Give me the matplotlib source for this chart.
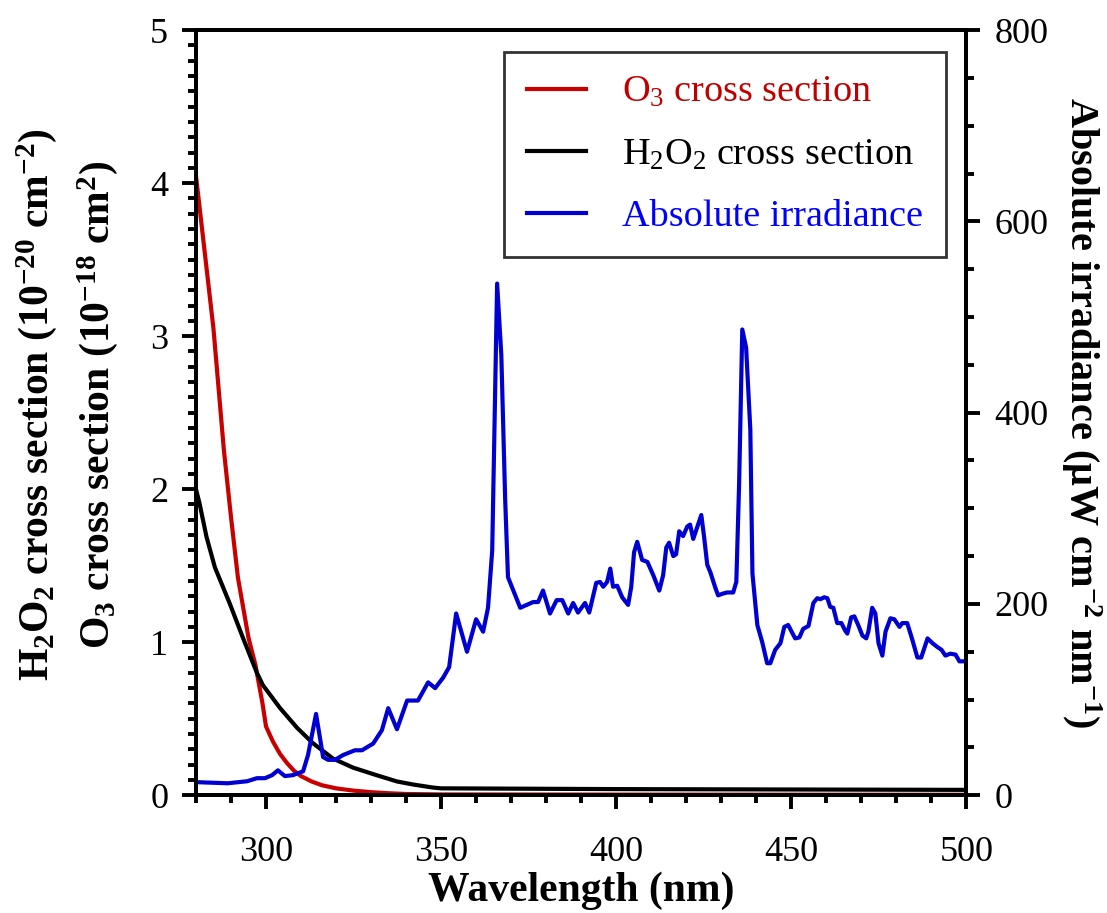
import numpy as np
import matplotlib
matplotlib.use('agg')
import matplotlib.pyplot as plt  # noqa
from matplotlib.ticker import MultipleLocator

plt.rcParams['font.family'] = ['Liberation Serif', 'DejaVu Serif']
plt.rcParams['mathtext.fontset'] = 'custom'
plt.rcParams['mathtext.rm'] = 'Liberation Serif'
plt.rcParams['mathtext.it'] = 'Liberation Serif:italic'
plt.rcParams['mathtext.bf'] = 'Liberation Serif:bold'

# O3 cross section (1e-18 cm2)
o3_wl = [280, 282, 285, 288, 290, 292, 295, 297, 299, 300, 302, 304, 306,
         308, 310, 313, 316, 320, 325, 330, 335, 340, 350, 400, 500]
o3_xs = [4.05, 3.65, 3.05, 2.25, 1.82, 1.42, 1.03, 0.85, 0.60, 0.45, 0.35,
         0.27, 0.21, 0.16, 0.125, 0.09, 0.065, 0.045, 0.03, 0.02, 0.013,
         0.008, 0.005, 0.004, 0.003]

# H2O2 cross section (1e-20 cm-2)
h2o2_wl = [280, 281, 283, 285.4, 289.7, 293.4, 297.4, 299.1, 304, 308.9,
           313.4, 319.1, 324.9, 331.7, 337.4, 342, 347.7, 350, 400, 500]
h2o2_xs = [2.0, 1.91, 1.69, 1.49, 1.25, 1.03, 0.80, 0.72, 0.57, 0.44,
           0.34, 0.24, 0.18, 0.13, 0.09, 0.07, 0.05, 0.045, 0.04, 0.035]

# Absolute irradiance (uW cm-2 nm-1)
irr_wl = [280, 280.6, 289.1, 294.6, 297.4, 299.7, 301.7, 303.4, 305.4, 307.7,
          310.6, 312, 314.3, 316.3, 317.7, 319.7, 322, 325.4, 327.4, 330.6,
          333.1, 334.9, 337.4, 340.3, 343.4, 346.3, 348.3, 350.6, 352.3,
          354.3, 357.4, 360, 362, 363.4, 364.6, 366, 367.2, 368.3, 369.1,
          372.6, 376.3, 377.7, 379.1, 381.1, 383, 384.6, 386.3, 387.7, 389.1,
          391.1, 392.3, 394.3, 395.4, 396.3, 397.4, 398.3, 399.1, 400.3,
          401.7, 403.4, 404.3, 405.1, 406, 407.4, 408.9, 410.6, 412.3, 413.4,
          414.3, 415.1, 416.3, 417.1, 418, 419.1, 420.3, 421.1, 422, 424.3,
          425.1, 426, 426.9, 428.3, 429.1, 430.6, 431.7, 433.4, 434.3, 435.1,
          436, 437.1, 438.3, 438.9, 440.3, 441.7, 443.1, 444, 445.4, 446.9,
          448, 449.1, 451.1, 452.3, 453.4, 454.9, 456.3, 457.4, 458.3, 459.4,
          460.3, 461.1, 462, 463.1, 464.3, 465.4, 466, 467.1, 468, 469.1,
          470.3, 471.4, 472, 473.1, 474, 474.9, 476, 476.9, 478.3, 479.4,
          480.9, 481.7, 483.1, 484.6, 486, 487.1, 488.9, 490.3, 491.7, 492.9,
          494, 495.4, 496.9, 498, 499.4, 500]
irr_val = [13, 13.6, 12.5, 14.6, 17.8, 17.8, 20.9, 26, 20, 21,
           25, 42, 85, 40, 37, 37, 42, 47, 47, 54,
           68, 91, 69, 99, 99, 118, 112, 123, 134,
           190, 150, 184, 171, 196, 256, 535, 460, 309, 228,
           196, 202, 202, 214, 190, 204, 204, 190, 201, 191,
           201, 191, 222, 223, 218, 223, 237, 218, 219,
           207, 199, 218, 254, 265, 246, 244, 230, 214, 230,
           259, 264, 250, 252, 276, 271, 281, 283, 268, 293,
           270, 241, 233, 217, 209, 211, 212, 212, 223, 326,
           487, 468, 382, 232, 178, 160, 138, 138, 152, 159,
           176, 178, 164, 165, 174, 177, 201, 206, 205, 207,
           206, 197, 196, 180, 180, 172, 169, 186, 187, 178,
           167, 164, 171, 196, 190, 159, 146, 171, 185, 184,
           176, 180, 180, 162, 144, 144, 164, 159, 155, 152,
           146, 148, 147, 140, 140, 140]

red = '#c80000'
blue = '#0000d2'

fig = plt.figure(figsize=(11.07, 9.13), dpi=100)
ax = fig.add_axes([0.177, 0.129, 0.696, 0.838])
ax2 = ax.twinx()

l1, = ax.plot(o3_wl, o3_xs, color=red, lw=3.0, label='O$_3$ cross section')
l2, = ax.plot(h2o2_wl, h2o2_xs, color='black', lw=3.0,
              label='H$_2$O$_2$ cross section')
l3, = ax2.plot(irr_wl, irr_val, color=blue, lw=3.0,
               label='Absolute irradiance')

ax.set_xlim(280, 500)
ax.set_ylim(0, 5)
ax2.set_ylim(0, 800)

ax.xaxis.set_major_locator(MultipleLocator(50))
ax.xaxis.set_minor_locator(MultipleLocator(10))
ax.yaxis.set_major_locator(MultipleLocator(1))
ax.yaxis.set_minor_locator(MultipleLocator(0.1))
ax2.yaxis.set_major_locator(MultipleLocator(200))
ax2.yaxis.set_minor_locator(MultipleLocator(50))

for a in (ax, ax2):
    for s in a.spines.values():
        s.set_linewidth(2.8)
    a.tick_params(which='major', length=10, width=2.8, labelsize=26, pad=10)
    a.tick_params(which='minor', length=6, width=2.8)
ax.tick_params(axis='x', which='both', top=False)
ax.tick_params(axis='x', which='major', pad=19)
ax.tick_params(axis='y', which='both', right=False)

ax.set_xlabel('Wavelength (nm)', fontsize=30, fontweight='bold', labelpad=2)
ax.text(-0.207, 0.51,
        r'H$_\mathbf{2}$O$_\mathbf{2}$ cross section (10$^\mathbf{-20}$ cm$^\mathbf{-2}$)',
        transform=ax.transAxes, rotation=90, ha='center', va='center',
        fontsize=30, fontweight='bold')
ax.text(-0.128, 0.51,
        r'O$_\mathbf{3}$ cross section (10$^\mathbf{-18}$ cm$^\mathbf{2}$)',
        transform=ax.transAxes, rotation=90, ha='center', va='center',
        fontsize=30, fontweight='bold')
ax2.set_ylabel(r'Absolute irradiance ($\mathbf{\mu}$W cm$^\mathbf{-2}$ nm$^\mathbf{-1}$)',
               fontsize=29, fontweight='bold', rotation=270, labelpad=40)

leg = ax2.legend(handles=[l1, l2, l3], loc='upper right',
                 bbox_to_anchor=(0.974, 0.971), borderaxespad=0,
                 fontsize=27.5, frameon=True, fancybox=False,
                 edgecolor='black', handlelength=1.55, handletextpad=0.95,
                 labelspacing=0.72, borderpad=0.6)
leg.get_frame().set_linewidth(2.0)
for t, c in zip(leg.get_texts(), ['#c00000', 'black', '#0000ff']):
    t.set_color(c)

fig.savefig('out.png', dpi=100)
